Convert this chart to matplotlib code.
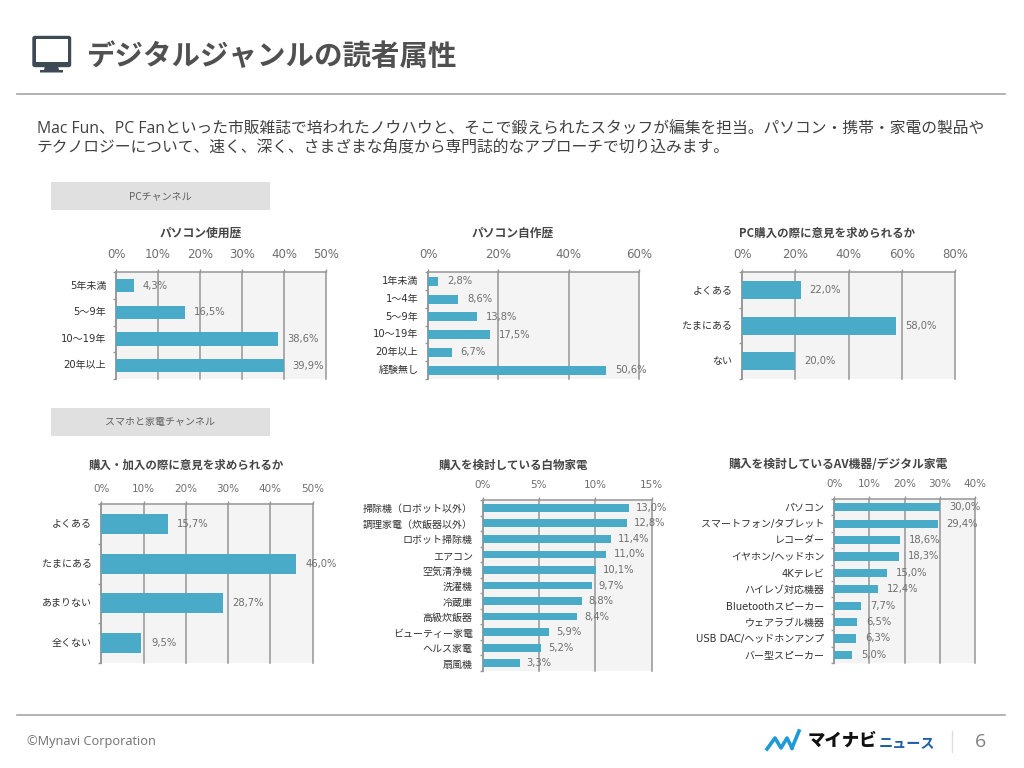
import matplotlib
matplotlib.use("Agg")
import matplotlib.pyplot as plt
from matplotlib.patches import Rectangle, FancyBboxPatch, Polygon
from matplotlib.lines import Line2D
from matplotlib.transforms import ScaledTranslation

W, H = 1024, 768
JP = ['Noto Sans CJK JP', 'DejaVu Sans']
LAT = ['DejaVu Sans', 'Noto Sans CJK JP']
OS = ['Open Sans', 'Noto Sans CJK JP']

title_text = "デジタルジャンルの読者属性"
body_lines = ["Mac Fun、PC Fanといった市販雑誌で培われたノウハウと、そこで鍛えられたスタッフが編集を担当。パソコン・携帯・家電の製品や",
              "テクノロジーについて、速く、深く、さまざまな角度から専門誌的なアプローチで切り込みます。"]
band1 = "PCチャンネル"
band2 = "スマホと家電チャンネル"
footer = "©Mynavi Corporation"

t1 = "パソコン使用歴"
c1 = ["5年未満", "5〜9年", "10〜19年", "20年以上"]
v1 = [4.3, 16.5, 38.6, 39.9]
x1 = [0, 10, 20, 30, 40, 50]

t2 = "パソコン自作歴"
c2 = ["1年未満", "1〜4年", "5〜9年", "10〜19年", "20年以上", "経験無し"]
v2 = [2.8, 8.6, 13.8, 17.5, 6.7, 50.6]
x2 = [0, 20, 40, 60]

t3 = "PC購入の際に意見を求められるか"
c3 = ["よくある", "たまにある", "ない"]
v3 = [22.0, 58.0, 20.0]
x3 = [0, 20, 40, 60, 80]

t4 = "購入・加入の際に意見を求められるか"
c4 = ["よくある", "たまにある", "あまりない", "全くない"]
v4 = [15.7, 46.0, 28.7, 9.5]
x4 = [0, 10, 20, 30, 40, 50]

t5 = "購入を検討している白物家電"
c5 = ["掃除機（ロボット以外）", "調理家電（炊飯器以外）", "ロボット掃除機", "エアコン", "空気清浄機", "洗濯機",
      "冷蔵庫", "高級炊飯器", "ビューティー家電", "ヘルス家電", "扇風機"]
v5 = [13.0, 12.8, 11.4, 11.0, 10.1, 9.7, 8.8, 8.4, 5.9, 5.2, 3.3]
x5 = [0, 5, 10, 15]

t6 = "購入を検討しているAV機器/デジタル家電"
c6 = ["パソコン", "スマートフォン/タブレット", "レコーダー", "イヤホン/ヘッドホン", "4Kテレビ", "ハイレゾ対応機器",
      "Bluetoothスピーカー", "ウェアラブル機器", "USB DAC/ヘッドホンアンプ", "バー型スピーカー"]
v6 = [30.0, 29.4, 18.6, 18.3, 15.0, 12.4, 7.7, 6.5, 6.3, 5.0]
x6 = [0, 10, 20, 30, 40]

BAR = '#4AABC8'
GRID = '#969696'
TXT = '#6e6e6e'
DARK = '#454545'

fig = plt.figure(figsize=(W / 100, H / 100), dpi=100, facecolor='white')


def fx(p):
    return p / W


def fy(p):
    return 1 - p / H


def chart(left, right, top, bottom, title, title_x, title_y, cats, vals, ticks, tick_fs, lab_fs, val_fs, val_off,
          tick_pad, title_fs, label_dy):
    ax = fig.add_axes([fx(left), fy(bottom), (right - left) / W, (bottom - top) / H])
    ax.set_facecolor('#f4f4f4')
    pos = list(range(len(cats)))
    ax.set_axisbelow(True)
    ax.barh(pos, vals, height=0.5, color=BAR, zorder=3)
    ax.set_xlim(ticks[0], ticks[-1])
    ax.set_ylim(len(cats) - 0.5, -0.5)
    ax.xaxis.tick_top()
    ax.set_xticks(ticks)
    ax.set_xticklabels([f"{t}%" for t in ticks], family=LAT, fontsize=tick_fs, color=TXT)
    ax.tick_params(axis='x', length=2, width=1, color=GRID, pad=tick_pad)
    ax.set_yticks(pos)
    ax.set_yticklabels(cats, family=LAT, fontsize=lab_fs, color='#303030')
    ax.tick_params(axis='y', which='major', length=0, pad=7)
    shift = ScaledTranslation(0, label_dy / fig.dpi, fig.dpi_scale_trans)
    for lab in ax.get_yticklabels():
        lab.set_transform(lab.get_transform() + shift)
    ax.set_yticks([i - 0.5 for i in range(len(cats) + 1)], minor=True)
    ax.tick_params(axis='y', which='minor', length=2, width=1, color=GRID)
    ax.xaxis.grid(True, color=GRID, lw=1.1, zorder=1)
    for line in ax.xaxis.get_gridlines():
        line.set_clip_on(False)
    for s in ['right', 'bottom']:
        ax.spines[s].set_visible(False)
    for s in ['top', 'left']:
        ax.spines[s].set_color(GRID)
        ax.spines[s].set_linewidth(1.1)
        ax.spines[s].set_zorder(2)
    for p, v in zip(pos, vals):
        ax.annotate(f"{v:.1f}%".replace('.', ','), xy=(v, p), xytext=(val_off, 0), textcoords='offset pixels',
                    va='center', ha='left', family=LAT, fontsize=val_fs, color=TXT, zorder=5,
                    annotation_clip=False)
    fig.text(fx(title_x), fy(title_y), title, family=JP, fontsize=title_fs, fontweight='bold', color=DARK,
             ha='center', va='center')
    return ax


chart(116, 326, 272.5, 379, t1, 200.5, 233, c1, v1, x1, 8.5, 7.2, 7.2, 9, 6.5, 8.5, 1.2)
chart(428, 639, 272.5, 379, t2, 513, 233, c2, v2, x2, 8.5, 7.2, 7.2, 9, 6.5, 8.5, 1.2)
chart(742, 955, 272.5, 379, t3, 827.5, 233, c3, v3, x3, 8.5, 7.2, 7.2, 9, 6.5, 8.25, 1.2)
chart(101.3, 312.7, 504, 663, t4, 186, 465, c4, v4, x4, 7.5, 7.2, 7.2, 9.5, 5.5, 8.25, 1.2)
chart(482.5, 651.5, 500, 671, t5, 513.5, 465, c5, v5, x5, 7.5, 7.2, 7.2, 7, 5, 8.3, -0.6)
chart(834.3, 975, 499, 663, t6, 838.5, 465, c6, v6, x6, 7.5, 7.2, 7.2, 9, 5, 8.5, 0.2)

# page furniture
fig.text(fx(87), fy(57), title_text, family=JP, fontsize=20.5, fontweight='bold', color='#505050', va='center')
fig.add_artist(Line2D([fx(17), fx(1005)], [fy(94), fy(94)], color='#a6a6a6', lw=1.2))
fig.text(fx(37), fy(129.5), body_lines[0], family=OS, fontsize=11.35, color='#404040', va='center')
fig.text(fx(37), fy(148.5), body_lines[1], family=OS, fontsize=11.35, color='#404040', va='center')

for top, bot, label in [(182, 209.5, band1), (408, 435.5, band2)]:
    fig.add_artist(Rectangle((fx(51), fy(bot)), 219 / W, (bot - top) / H, transform=fig.transFigure,
                             facecolor='#e0e0e0', edgecolor='none'))
    fig.text(fx(160.5), fy((top + bot) / 2), label, family=JP, fontsize=7.2, color='#606060', ha='center', va='center')

# monitor icon
ic = '#3d4a55'
fig.add_artist(FancyBboxPatch((fx(33), fy(66.5)), 37.5 / W, 30 / H, boxstyle='round,pad=0,rounding_size=0.002',
                              transform=fig.transFigure, facecolor=ic, edgecolor=ic, lw=1))
fig.add_artist(Rectangle((fx(36), fy(61.5)), 31.5 / W, 22.5 / H, transform=fig.transFigure,
                         facecolor='white', edgecolor='none'))
fig.add_artist(Polygon([(fx(45), fy(66)), (fx(58), fy(66)), (fx(59), fy(70)), (fx(63), fy(70)), (fx(63), fy(72.5)),
                        (fx(40), fy(72.5)), (fx(40), fy(70)), (fx(44), fy(70))], closed=True,
                       transform=fig.transFigure, facecolor=ic, edgecolor='none'))

# footer
fig.add_artist(Line2D([fx(17), fx(1005)], [fy(714.5), fy(714.5)], color='#a6a6a6', lw=1.2))
fig.text(fx(27), fy(741), footer, family=OS, fontsize=9.2, color='#707070', va='center')
fig.add_artist(Line2D([fx(767), fx(775), fx(781), fx(787), fx(792)],
                      [fy(749), fy(738), fy(748), fy(738), fy(748)], color='#1f9ad6', lw=2.6))
fig.add_artist(Line2D([fx(792), fx(799)], [fy(748), fy(731)], color='#1f9ad6', lw=2.6))
fig.text(fx(808), fy(741), "マイナビ", family=JP, fontsize=12.5, fontweight='black', color='#111111', va='center')
fig.text(fx(879), fy(744), "ニュース", family=JP, fontsize=10.2, fontweight='bold', color='#1d5fa8', va='center')
fig.add_artist(Line2D([fx(951.5), fx(951.5)], [fy(731), fy(752)], color='#dddddd', lw=1))
fig.text(fx(981), fy(742), "6", family=OS, fontsize=14, color='#808080', ha='center', va='center')

fig.savefig('out.png', dpi=100, facecolor='white')
